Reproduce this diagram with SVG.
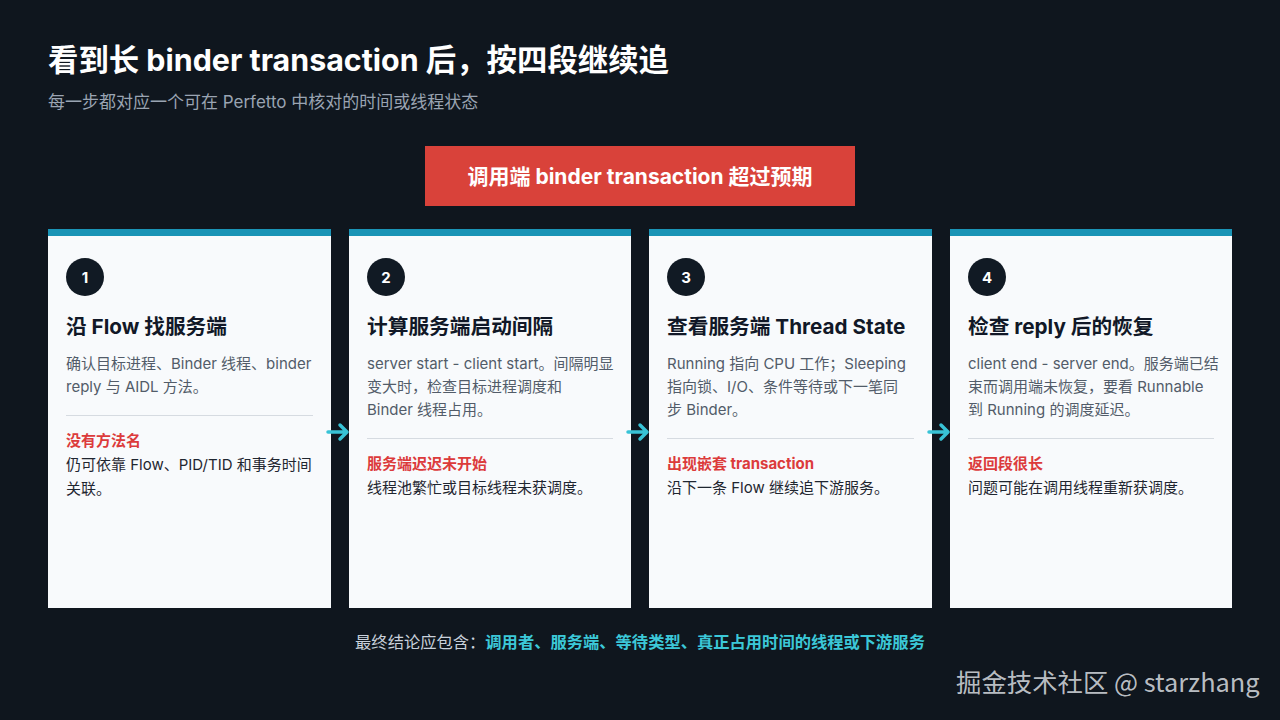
<svg xmlns="http://www.w3.org/2000/svg" width="1280" height="720" viewBox="0 0 1280 720">
<defs>
<style>
text{font-family:Inter,"Noto Sans CJK SC","Noto Sans",sans-serif}
.title{font-size:30.4px;font-weight:700;fill:#ffffff}
.sub{font-size:17px;fill:#9aa4b2}
.card{fill:#f8fafc}
.bar{fill:#1a94b6}
.num{fill:#111a24}
.numt{font-size:15px;font-weight:700;fill:#ffffff;text-anchor:middle}
.h{font-size:20.7px;font-weight:700;fill:#111827}
.b{font-size:15px;fill:#525c69}
.div{stroke:#d6dbe1;stroke-width:1}
.r{font-size:15px;font-weight:700;fill:#dc3b3b}
.t{font-size:15px;fill:#1f2630}
.arr{stroke:#38c3d6;stroke-width:3.5;fill:none;stroke-linecap:round;stroke-linejoin:round}
</style>
</defs>
<rect width="1280" height="720" fill="#0f161e"/>
<text class="title" x="48" y="71">看到长 binder transaction 后，按四段继续追</text>
<text class="sub" x="48" y="108">每一步都对应一个可在 Perfetto 中核对的时间或线程状态</text>

<g id="trigger">
<rect x="425" y="146" width="430" height="60" fill="#d9423a"/>
<text x="640" y="184" font-size="21" font-weight="700" fill="#ffffff" text-anchor="middle">调用端 binder transaction 超过预期</text>
</g>

<g id="step1">
<rect class="card" x="48" y="229" width="283" height="379"/>
<rect class="bar" x="48" y="229" width="283" height="7"/>
<circle class="num" cx="85" cy="277" r="19"/>
<text class="numt" x="85" y="282.5">1</text>
<text class="h" x="66" y="334">沿 Flow 找服务端</text>
<text class="b" x="66" y="369">确认目标进程、Binder 线程、binder</text>
<text class="b" x="66" y="392">reply 与 AIDL 方法。</text>
<line class="div" x1="66" y1="415.5" x2="313" y2="415.5"/>
<text class="r" x="66" y="446">没有方法名</text>
<text class="t" x="66" y="470">仍可依靠 Flow、PID/TID 和事务时间</text>
<text class="t" x="66" y="494">关联。</text>
</g>

<g id="step2">
<rect class="card" x="349" y="229" width="282" height="379"/>
<rect class="bar" x="349" y="229" width="282" height="7"/>
<circle class="num" cx="386" cy="277" r="19"/>
<text class="numt" x="386" y="282.5">2</text>
<text class="h" x="367" y="334">计算服务端启动间隔</text>
<text class="b" x="367" y="369">server start - client start。间隔明显</text>
<text class="b" x="367" y="392">变大时，检查目标进程调度和</text>
<text class="b" x="367" y="415">Binder 线程占用。</text>
<line class="div" x1="367" y1="438.5" x2="613" y2="438.5"/>
<text class="r" x="367" y="469">服务端迟迟未开始</text>
<text class="t" x="367" y="493">线程池繁忙或目标线程未获调度。</text>
</g>

<g id="step3">
<rect class="card" x="649" y="229" width="283" height="379"/>
<rect class="bar" x="649" y="229" width="283" height="7"/>
<circle class="num" cx="686" cy="277" r="19"/>
<text class="numt" x="686" y="282.5">3</text>
<text class="h" x="667" y="334">查看服务端 Thread State</text>
<text class="b" x="667" y="369">Running 指向 CPU 工作；Sleeping</text>
<text class="b" x="667" y="392">指向锁、I/O、条件等待或下一笔同</text>
<text class="b" x="667" y="415">步 Binder。</text>
<line class="div" x1="667" y1="438.5" x2="914" y2="438.5"/>
<text class="r" x="667" y="469">出现嵌套 transaction</text>
<text class="t" x="667" y="493">沿下一条 Flow 继续追下游服务。</text>
</g>

<g id="step4">
<rect class="card" x="950" y="229" width="282" height="379"/>
<rect class="bar" x="950" y="229" width="282" height="7"/>
<circle class="num" cx="987" cy="277" r="19"/>
<text class="numt" x="987" y="282.5">4</text>
<text class="h" x="968" y="334">检查 reply 后的恢复</text>
<text class="b" x="968" y="369">client end - server end。服务端已结</text>
<text class="b" x="968" y="392">束而调用端未恢复，要看 Runnable</text>
<text class="b" x="968" y="415">到 Running 的调度延迟。</text>
<line class="div" x1="968" y1="438.5" x2="1214" y2="438.5"/>
<text class="r" x="968" y="469">返回段很长</text>
<text class="t" x="968" y="493">问题可能在调用线程重新获调度。</text>
</g>

<g id="connectors">
<path class="arr" d="M328 432 H347 M340 425 L347 432 L340 439"/>
<path class="arr" d="M628 432 H647 M640 425 L647 432 L640 439"/>
<path class="arr" d="M929 432 H948 M941 425 L948 432 L941 439"/>
</g>

<text x="640" y="648" font-size="16.3" text-anchor="middle"><tspan fill="#c9d1db">最终结论应包含：</tspan><tspan fill="#3cc8d8" font-weight="700">调用者、服务端、等待类型、真正占用时间的线程或下游服务</tspan></text>

<text x="956" y="692" font-size="25.4" fill="#d0d4d9" fill-opacity="0.9" style="font-family:'Noto Sans CJK SC','Noto Sans',sans-serif">掘金技术社区 @ starzhang</text>
</svg>
